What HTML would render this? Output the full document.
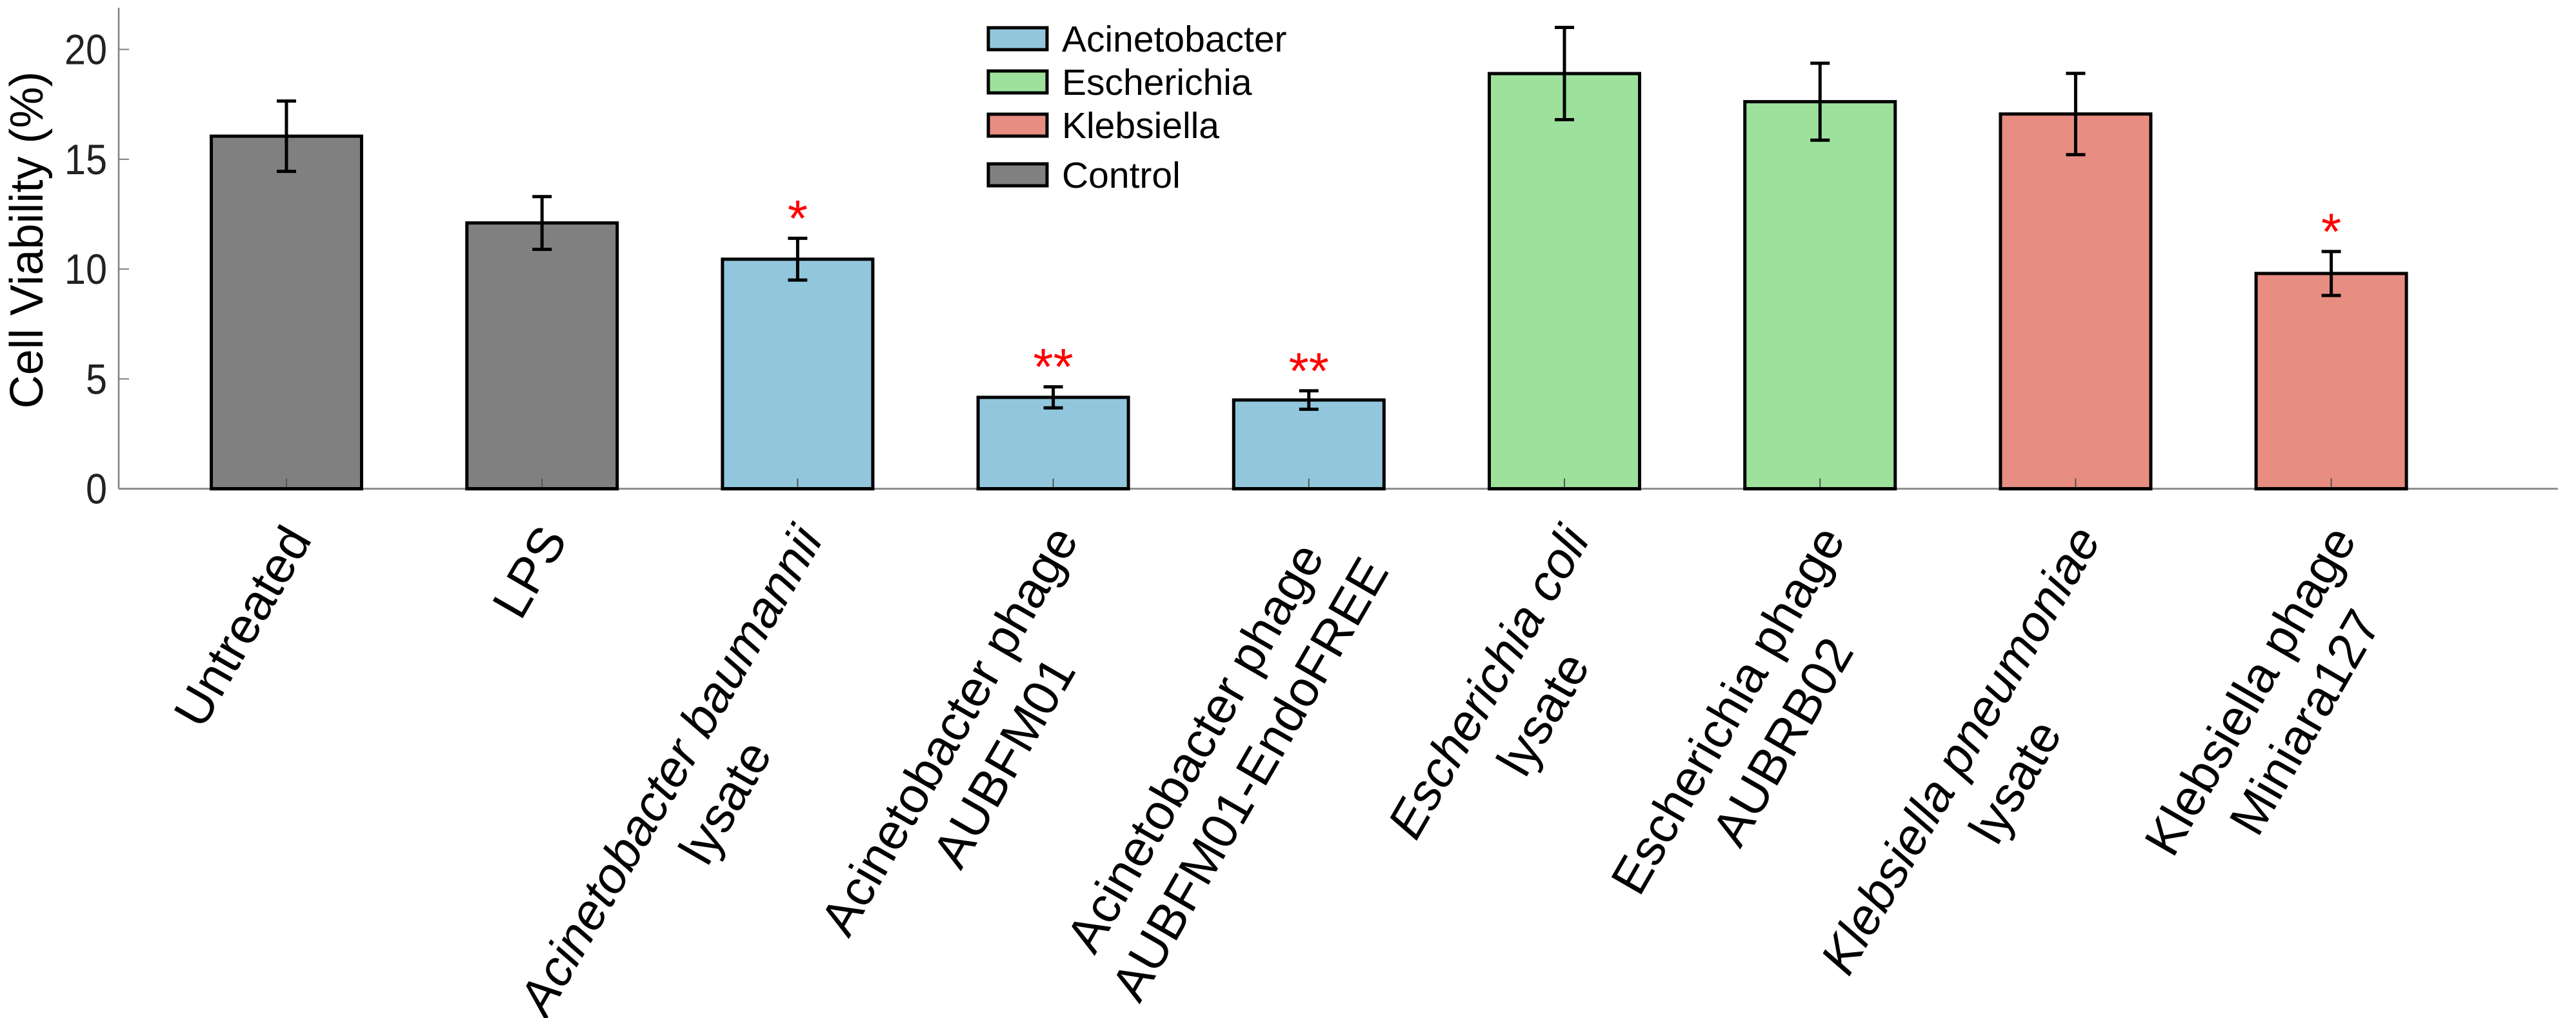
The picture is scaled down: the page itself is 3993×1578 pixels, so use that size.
<!DOCTYPE html>
<html><head><meta charset="utf-8"><style>
html,body{margin:0;padding:0;background:#fff;}
svg{display:block;font-family:"Liberation Sans",Arial,sans-serif;}
</style></head><body>
<svg id="chart" width="3993" height="1578" viewBox="0 0 3993 1578" xmlns="http://www.w3.org/2000/svg"></svg>
<script>
const categories = [
  ["Untreated"], ["LPS"], ["Acinetobacter baumannii","lysate"],
  ["Acinetobacter phage","AUBFM01"], ["Acinetobacter phage","AUBFM01-EndoFREE"],
  ["Escherichia coli","lysate"], ["Escherichia phage","AUBRB02"],
  ["Klebsiella pneumoniae","lysate"], ["Klebsiella phage","Miniara127"]
];
const italicFirstLine = [false,false,true,false,false,true,false,true,false];
const groups = ["Control","Control","Acinetobacter","Acinetobacter","Acinetobacter","Escherichia","Escherichia","Klebsiella","Klebsiella"];
const values = [16.05, 12.1, 10.45, 4.16, 4.04, 18.9, 17.62, 17.06, 9.8];
const errors = [1.6, 1.2, 0.95, 0.48, 0.42, 2.1, 1.75, 1.85, 1.0];
const stars = ["", "", "*", "**", "**", "", "", "", "*"];
const yTicks = [0, 5, 10, 15, 20];
const legendNames = ["Acinetobacter","Escherichia","Klebsiella","Control"];
const colors = {Acinetobacter:"#92c6dd", Escherichia:"#9ee19c", Klebsiella:"#e88d82", Control:"#808080"};

const NS = "http://www.w3.org/2000/svg";
const svg = document.getElementById("chart");
const X0 = 184, X1 = 3965, Y0 = 757.6, PU = 34.05, YTOP = 12;
const firstC = 444, step = 396.2, barW = 233;
function xPos(i){ return firstC + i*step; }
function yPos(v){ return Y0 - v*PU; }
function mk(tag, attrs, parent){
  const e = document.createElementNS(NS, tag);
  for (const k in attrs) e.setAttribute(k, attrs[k]);
  (parent||svg).appendChild(e); return e;
}

const yAxis = mk("line",{x1:X0,y1:YTOP,x2:X0,y2:Y0,stroke:"#7f7f7f","stroke-width":2.5});


yTicks.forEach(t=>{
  const tk = mk("line",{x1:X0,y1:yPos(t),x2:X0+16,y2:yPos(t),stroke:"#7f7f7f","stroke-width":2});
  
  
  const lb = mk("text",{x:166,y:yPos(t)+23,"text-anchor":"end","font-size":66,fill:"#222",transform:`translate(${166*0.1},0) scale(0.9,1)`});
  lb.setAttribute("x", 166/0.9 - 166*0.1/0.9);
  lb.textContent = t;
  
  
});
const yTitle = mk("text",{x:0,y:0,"text-anchor":"middle","font-size":72,fill:"#000",transform:"translate(66,372) rotate(-90)"});
yTitle.textContent = "Cell Viability (%)";



values.forEach((v,i)=>{
  const cx = xPos(i);
  const r = mk("rect",{x:cx-barW/2,y:yPos(v),width:barW,height:Y0-yPos(v),fill:colors[groups[i]],stroke:"#000","stroke-width":5});
  
  
  const tk = mk("line",{x1:cx,y1:Y0,x2:cx,y2:Y0-16,stroke:"#555","stroke-width":2});
  
  
});
const xAxis = mk("line",{x1:X0,y1:Y0,x2:X1,y2:Y0,stroke:"#8c8c8c","stroke-width":3});


values.forEach((v,i)=>{
  const cx = xPos(i);
  const b = mk("line",{x1:cx-barW/2-2.5,y1:Y0,x2:cx+barW/2+2.5,y2:Y0,stroke:"#000","stroke-width":5});
  
  
});
values.forEach((v,i)=>{
  const cx = xPos(i), top = yPos(v+errors[i]), bot = yPos(v-errors[i]);
  const g = mk("g",{stroke:"#000","stroke-width":5});
  
  
  mk("line",{x1:cx,y1:top,x2:cx,y2:bot},g);
  mk("line",{x1:cx-15,y1:top,x2:cx+15,y2:top},g);
  mk("line",{x1:cx-15,y1:bot,x2:cx+15,y2:bot},g);
  if (stars[i]) {
    const s = mk("text",{x:cx,y:yPos(v+errors[i]+1.45)+46,"text-anchor":"middle","font-size":80,fill:"#ff0000"});
    s.textContent = stars[i];
    
    
  }
});

const FS = 78, LH = 98;
categories.forEach((lines,i)=>{
  const outer = mk("g",{});
  
  
  const inner = mk("g",{},outer);
  const texts = lines.map((ln,k)=>{
    const t = mk("text",{x:0,y:k*LH,"font-size":FS,fill:"#000","text-anchor":"middle"},inner);
    if (k===0 && italicFirstLine[i]) t.setAttribute("font-style","italic");
    t.textContent = ln;
    return t;
  });
  const widths = texts.map(t=>t.getComputedTextLength());
  const W = Math.max.apply(null, widths);
  texts.forEach(t=>t.setAttribute("x", -W/2));
  const ax = xPos(i) - 8, ay = 808;
  const lx = 0, ly = -0.72*FS;
  const c = 0.5, s = -0.8660254;
  const rx = lx*c - ly*s, ry = lx*s + ly*c;
  outer.setAttribute("transform", `translate(${ax-rx},${ay-ry}) rotate(-60)`);
});

legendNames.forEach((n,k)=>{
  const cy = [60,127,194,271][k];
  const g = mk("g",{});
  
  
  mk("rect",{x:1532,y:cy-17,width:91,height:34,fill:colors[n],stroke:"#000","stroke-width":5},g);
  const t = mk("text",{x:1646,y:cy+20,"font-size":57,fill:"#000"},g);
  t.textContent = n;
});
</script>
</body></html>
